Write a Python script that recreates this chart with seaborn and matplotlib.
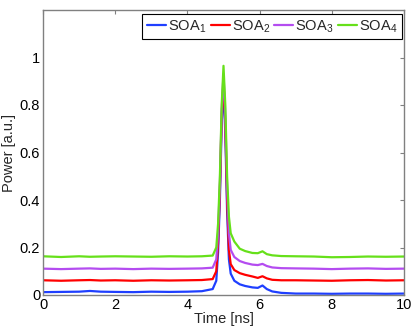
import matplotlib
matplotlib.use("Agg")
import matplotlib.pyplot as plt
import seaborn as sns
import pandas as pd

time_ns = [0, 0.5, 1, 1.3, 1.6, 2, 2.5, 3, 3.5, 4, 4.4, 4.7, 4.8, 4.85, 4.9, 4.95,
           5.0, 5.05, 5.1, 5.15, 5.2, 5.3, 5.45, 5.6, 5.8, 5.95, 6.08, 6.2, 6.35,
           6.6, 7.0, 7.5, 8, 8.5, 9, 9.5, 10]

soa1 = [0.012, 0.013, 0.014, 0.017, 0.014, 0.013, 0.012, 0.014, 0.013, 0.014, 0.016, 0.025,
        0.06, 0.18, 0.40, 0.72, 0.88, 0.68, 0.35, 0.15, 0.09, 0.06, 0.045, 0.038, 0.032,
        0.030, 0.040, 0.025, 0.015, 0.009, 0.006, 0.006, 0.005, 0.006, 0.006, 0.005, 0.006]
soa2 = [0.062, 0.060, 0.062, 0.063, 0.061, 0.062, 0.060, 0.062, 0.061, 0.062, 0.063, 0.067,
        0.10, 0.22, 0.44, 0.76, 0.905, 0.72, 0.40, 0.19, 0.13, 0.105, 0.092, 0.085, 0.078,
        0.072, 0.079, 0.070, 0.064, 0.062, 0.062, 0.061, 0.060, 0.062, 0.063, 0.061, 0.062]
soa3 = [0.111, 0.109, 0.111, 0.112, 0.110, 0.111, 0.109, 0.111, 0.110, 0.111, 0.112, 0.115,
        0.15, 0.26, 0.47, 0.78, 0.93, 0.76, 0.45, 0.26, 0.19, 0.16, 0.143, 0.135, 0.128,
        0.126, 0.131, 0.122, 0.116, 0.113, 0.112, 0.111, 0.109, 0.111, 0.112, 0.110, 0.111]
soa4 = [0.163, 0.160, 0.163, 0.161, 0.162, 0.163, 0.162, 0.161, 0.163, 0.162, 0.163, 0.166,
        0.20, 0.30, 0.50, 0.80, 0.965, 0.80, 0.50, 0.33, 0.26, 0.225, 0.195, 0.185, 0.177,
        0.176, 0.184, 0.172, 0.167, 0.164, 0.163, 0.162, 0.159, 0.160, 0.162, 0.161, 0.162]

labels = [r"SOA$_\mathregular{1}$", r"SOA$_\mathregular{2}$",
          r"SOA$_\mathregular{3}$", r"SOA$_\mathregular{4}$"]
colors = ["#1f3fff", "#ff0000", "#b44cf0", "#66e01a"]
xticks = [0, 2, 4, 6, 8, 10]
yticks = [0, 0.2, 0.4, 0.6, 0.8, 1]

rows = []
for lab, ser in zip(labels, [soa1, soa2, soa3, soa4]):
    for t, v in zip(time_ns, ser):
        rows.append({"Time": t, "Power": v, "Series": lab})
df = pd.DataFrame(rows)

sns.set_style("white")
plt.rcParams["font.family"] = ["Liberation Sans", "DejaVu Sans"]
plt.rcParams["mathtext.fontset"] = "custom"
plt.rcParams["mathtext.rm"] = "Liberation Sans"
plt.rcParams["mathtext.it"] = "Liberation Sans"

FS = 10.5
fig = plt.figure(figsize=(4.15, 3.3), dpi=100)
ax = fig.add_axes([43 / 415, 35 / 330, 361 / 415, 285 / 330])

sns.lineplot(data=df, x="Time", y="Power", hue="Series", palette=colors,
             linewidth=1.6, ax=ax, legend=False, estimator=None)

ax.set_xlim(0, 10)
ax.set_ylim(0, 1.2)
ax.set_xticks(xticks)
ax.set_yticks(yticks)
ax.set_xticklabels([str(x) for x in xticks])
ax.set_yticklabels(["0", "0.2", "0.4", "0.6", "0.8", "1"])
ax.tick_params(direction="in", length=3, width=0.8, color="#808080",
               labelsize=FS, top=True, right=True, pad=2, labelcolor="black")
ax.set_xlabel("Time [ns]", fontsize=FS, labelpad=0)
ax.set_ylabel("Power [a.u.]", fontsize=FS, labelpad=3)
for s in ax.spines.values():
    s.set_visible(True)
    s.set_color("#808080")
    s.set_linewidth(1.0)

handles = [plt.Line2D([], [], color=c, lw=1.6) for c in colors]
leg = fig.legend(handles, labels, ncol=4, loc="upper right",
                 bbox_to_anchor=(402 / 415, 1 - 14 / 330), fontsize=FS,
                 frameon=True, fancybox=False, framealpha=1, edgecolor="black",
                 handlelength=1.3, handletextpad=0.15, columnspacing=0.3,
                 borderpad=0.3, borderaxespad=0)
leg.get_frame().set_linewidth(0.8)

fig.savefig("out.png", dpi=100)
